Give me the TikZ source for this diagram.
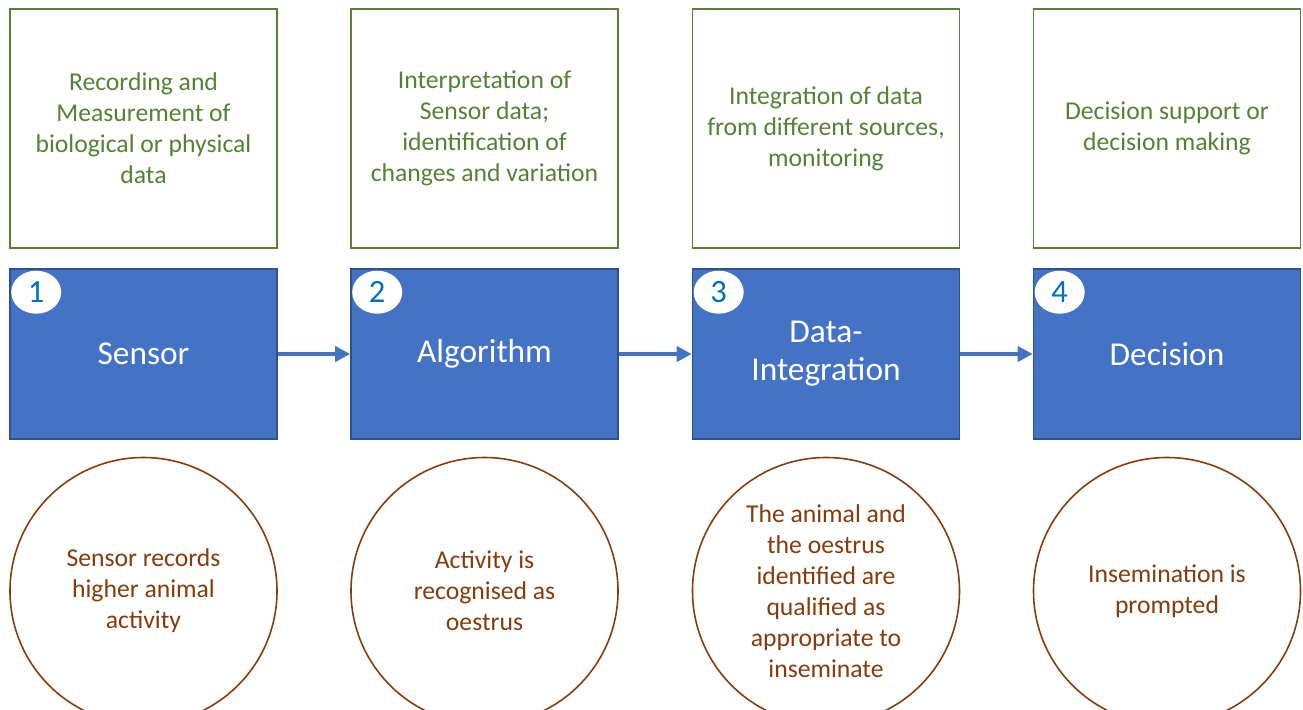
\documentclass[tikz,border=0pt]{standalone}
\usepackage{fontspec}
\setmainfont{Carlito}
\usetikzlibrary{arrows.meta,shapes.geometric}

\definecolor{descgreen}{HTML}{548235}
\definecolor{stageblue}{HTML}{4472C4}
\definecolor{stageedge}{HTML}{2F528F}
\definecolor{numblue}{HTML}{0070C0}
\definecolor{examplebrown}{HTML}{843C0C}

\tikzset{
    desc/.style={rectangle, draw=descgreen, line width=0.9pt, minimum width=5.34cm, minimum height=4.78cm,
        text=descgreen, align=center, font=\fontsize{14.6}{17.6}\selectfont},
    stage/.style={rectangle, fill=stageblue, draw=stageedge, line width=0.9pt, minimum width=5.34cm, minimum height=3.4cm,
        text=white, align=center, font=\fontsize{19}{21.7}\selectfont},
    badge/.style={ellipse, fill=white, inner sep=0pt, minimum width=1.0cm, minimum height=0.86cm,
        text=numblue, font=\fontsize{18.5}{21.7}\selectfont},
    example/.style={circle, draw=examplebrown, line width=0.9pt, minimum size=5.34cm,
        text=examplebrown, align=center, font=\fontsize{14.6}{17.6}\selectfont},
    flow/.style={stageblue, line width=2.3pt, -{Triangle[length=0.3cm, width=0.3cm]}}
}

\begin{document}
\begin{tikzpicture}
    \clip (0,0) rectangle (26.06,-14.2);

    % Description boxes on top
    \node[desc] (d1) at (2.87,-2.57) {Recording and\\Measurement of\\biological or physical\\data};
    \node[desc] (d2) at (9.69,-2.57) {Interpretation of\\Sensor data;\\identification of\\changes and variation};
    \node[desc] (d3) at (16.52,-2.57) {Integration of data\\from different sources,\\monitoring};
    \node[desc] (d4) at (23.34,-2.57) {Decision support or\\decision making};

    % Stages of the chain
    \node[stage] (s1) at (2.87,-7.08) {Sensor};
    \node[stage] (s2) at (9.69,-7.08) {Algorithm};
    \node[stage] (s3) at (16.52,-7.08) {Data-\\Integration};
    \node[stage] (s4) at (23.34,-7.08) {Decision};

    % Step numbers
    \node[badge] (n1) at ([xshift=0.54cm,yshift=-0.48cm]s1.north west) {1};
    \node[badge] (n2) at ([xshift=0.54cm,yshift=-0.48cm]s2.north west) {2};
    \node[badge] (n3) at ([xshift=0.54cm,yshift=-0.48cm]s3.north west) {3};
    \node[badge] (n4) at ([xshift=0.54cm,yshift=-0.48cm]s4.north west) {4};

    % Arrows between stages
    \draw[flow] (s1.east) -- (s2.west);
    \draw[flow] (s2.east) -- (s3.west);
    \draw[flow] (s3.east) -- (s4.west);

    % Examples below
    \node[example] (e1) at (2.87,-11.82) {Sensor records\\higher animal\\activity};
    \node[example] (e2) at (9.69,-11.82) {Activity is\\recognised as\\oestrus};
    \node[example] (e3) at (16.52,-11.82) {The animal and\\the oestrus\\identified are\\qualified as\\appropriate to\\inseminate};
    \node[example] (e4) at (23.34,-11.82) {Insemination is\\prompted};
\end{tikzpicture}
\end{document}
